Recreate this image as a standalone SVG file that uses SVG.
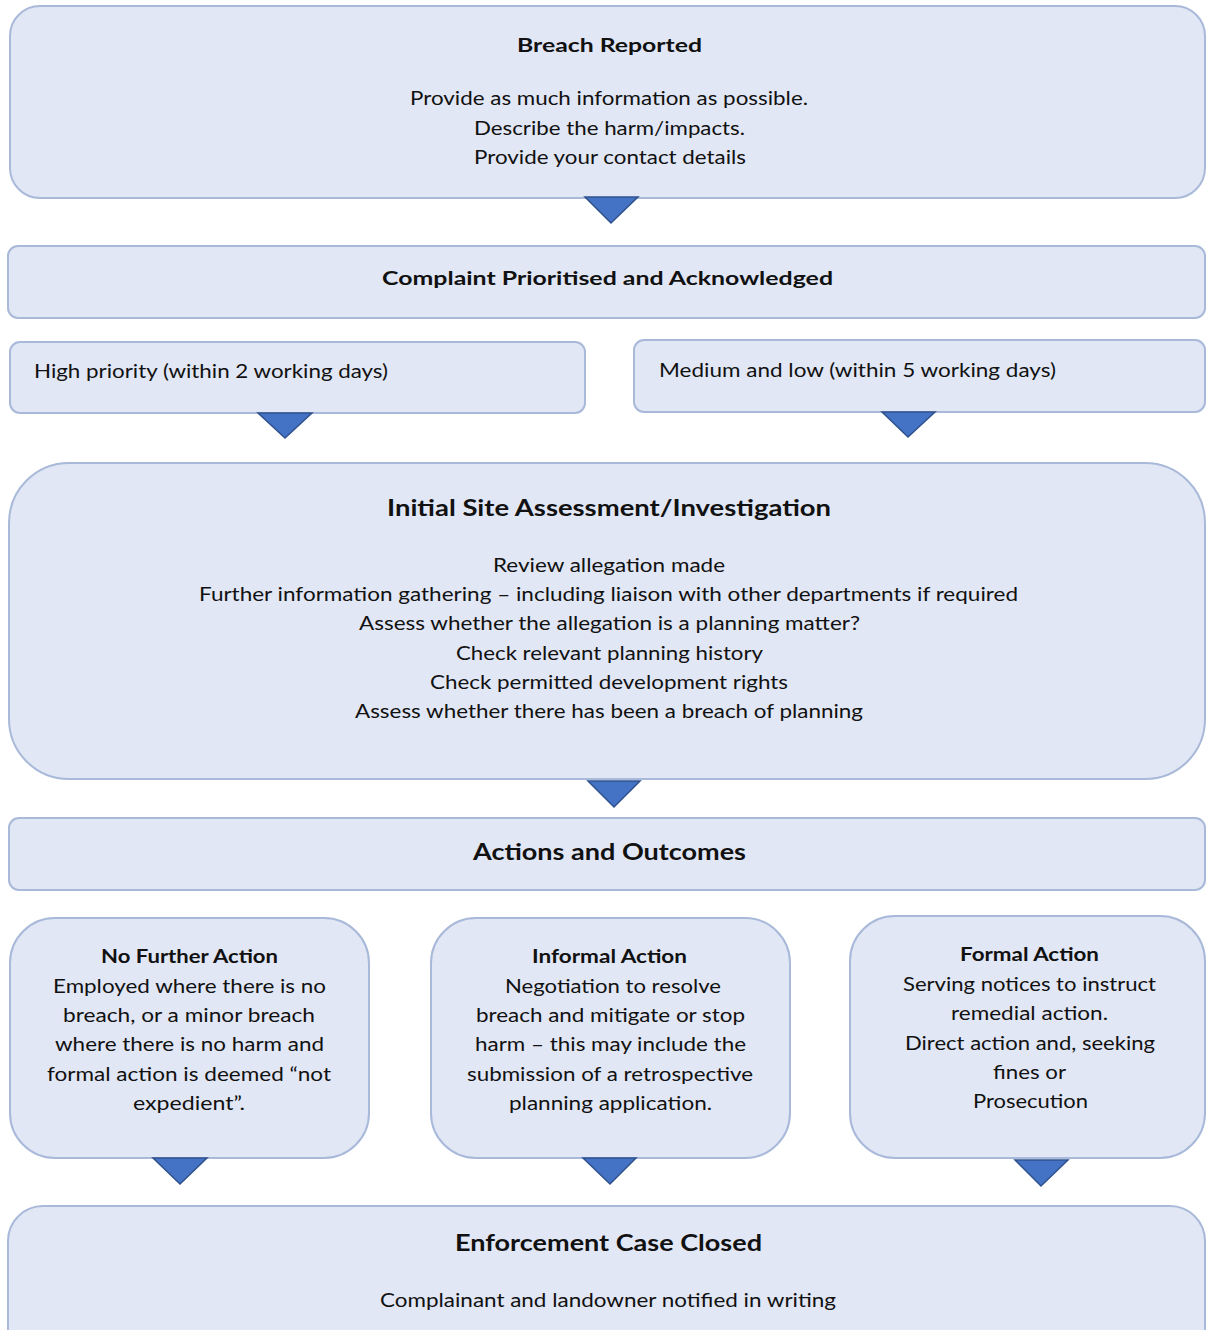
<svg xmlns="http://www.w3.org/2000/svg" width="1206" height="1330" viewBox="0 0 1206 1330">
<style>
.box{fill:#E1E7F5;stroke:#A9B9D9;stroke-width:2}
.tri{fill:#4472C4;stroke:#2F528F;stroke-width:1.5;stroke-linejoin:miter}
text{font-family:Lato,"Liberation Sans",sans-serif;fill:#111;font-size:19.5px}
.c{text-anchor:middle}
.b{font-weight:bold}
.big{font-size:23.5px}
</style>
<rect width="1206" height="1330" fill="#fff"/>
<g id="n1">
<rect class="box" x="10" y="6" width="1195" height="192" rx="30"/>
<text class="c b" x="609.5" y="52" textLength="185" lengthAdjust="spacingAndGlyphs">Breach Reported</text>
<text class="c" x="609" y="105" textLength="398" lengthAdjust="spacingAndGlyphs">Provide as much information as possible.</text>
<text class="c" x="609.5" y="135" textLength="271" lengthAdjust="spacingAndGlyphs">Describe the harm/impacts.</text>
<text class="c" x="610" y="164" textLength="272" lengthAdjust="spacingAndGlyphs">Provide your contact details</text>
</g>
<g id="n2">
<rect class="box" x="8" y="246" width="1197" height="72" rx="10"/>
<text class="c b" x="607.5" y="285" textLength="451" lengthAdjust="spacingAndGlyphs">Complaint Prioritised and Acknowledged</text>
</g>
<g id="n3">
<rect class="box" x="10" y="342" width="575" height="71" rx="10"/>
<text x="34" y="378" textLength="354" lengthAdjust="spacingAndGlyphs">High priority (within 2 working days)</text>
</g>
<g id="n4">
<rect class="box" x="634" y="340" width="571" height="72" rx="10"/>
<text x="659" y="377" textLength="397" lengthAdjust="spacingAndGlyphs">Medium and low (within 5 working days)</text>
</g>
<g id="n5">
<rect class="box" x="9" y="463" width="1196" height="316" rx="60"/>
<text class="c b big" x="609" y="516" textLength="444" lengthAdjust="spacingAndGlyphs">Initial Site Assessment/Investigation</text>
<text class="c" x="609" y="572" textLength="232" lengthAdjust="spacingAndGlyphs">Review allegation made</text>
<text class="c" x="608.5" y="601" textLength="819" lengthAdjust="spacingAndGlyphs">Further information gathering – including liaison with other departments if required</text>
<text class="c" x="609.5" y="630" textLength="501" lengthAdjust="spacingAndGlyphs">Assess whether the allegation is a planning matter?</text>
<text class="c" x="609.5" y="660" textLength="307" lengthAdjust="spacingAndGlyphs">Check relevant planning history</text>
<text class="c" x="609" y="689" textLength="358" lengthAdjust="spacingAndGlyphs">Check permitted development rights</text>
<text class="c" x="609" y="718" textLength="508" lengthAdjust="spacingAndGlyphs">Assess whether there has been a breach of planning</text>
</g>
<g id="n6">
<rect class="box" x="9" y="818" width="1196" height="72" rx="10"/>
<text class="c b big" x="609.5" y="860" textLength="273" lengthAdjust="spacingAndGlyphs">Actions and Outcomes</text>
</g>
<g id="n7">
<rect class="box" x="10" y="918" width="359" height="240" rx="45"/>
<text class="c b" x="189.5" y="963" textLength="177" lengthAdjust="spacingAndGlyphs">No Further Action</text>
<text class="c" x="189.5" y="993" textLength="273" lengthAdjust="spacingAndGlyphs">Employed where there is no</text>
<text class="c" x="189" y="1022" textLength="252" lengthAdjust="spacingAndGlyphs">breach, or a minor breach</text>
<text class="c" x="189.5" y="1051" textLength="269" lengthAdjust="spacingAndGlyphs">where there is no harm and</text>
<text class="c" x="189" y="1081" textLength="284" lengthAdjust="spacingAndGlyphs">formal action is deemed “not</text>
<text class="c" x="189" y="1110" textLength="112" lengthAdjust="spacingAndGlyphs">expedient”.</text>
</g>
<g id="n8">
<rect class="box" x="431" y="918" width="359" height="240" rx="45"/>
<text class="c b" x="609.5" y="963" textLength="155" lengthAdjust="spacingAndGlyphs">Informal Action</text>
<text class="c" x="613" y="993" textLength="216" lengthAdjust="spacingAndGlyphs">Negotiation to resolve</text>
<text class="c" x="610.5" y="1022" textLength="269" lengthAdjust="spacingAndGlyphs">breach and mitigate or stop</text>
<text class="c" x="610.5" y="1051" textLength="271" lengthAdjust="spacingAndGlyphs">harm – this may include the</text>
<text class="c" x="610" y="1081" textLength="286" lengthAdjust="spacingAndGlyphs">submission of a retrospective</text>
<text class="c" x="610.5" y="1110" textLength="203" lengthAdjust="spacingAndGlyphs">planning application.</text>
</g>
<g id="n9">
<rect class="box" x="850" y="916" width="355" height="242" rx="45"/>
<text class="c b" x="1029.5" y="961" textLength="139" lengthAdjust="spacingAndGlyphs">Formal Action</text>
<text class="c" x="1029.5" y="991" textLength="253" lengthAdjust="spacingAndGlyphs">Serving notices to instruct</text>
<text class="c" x="1029.5" y="1020" textLength="157" lengthAdjust="spacingAndGlyphs">remedial action.</text>
<text class="c" x="1030" y="1050" textLength="250" lengthAdjust="spacingAndGlyphs">Direct action and, seeking</text>
<text class="c" x="1029.5" y="1079" textLength="73" lengthAdjust="spacingAndGlyphs">fines or</text>
<text class="c" x="1030.5" y="1108" textLength="115" lengthAdjust="spacingAndGlyphs">Prosecution</text>
</g>
<g id="n10">
<rect class="box" x="8" y="1206" width="1197" height="160" rx="35"/>
<text class="c b big" x="608.5" y="1251" textLength="307" lengthAdjust="spacingAndGlyphs">Enforcement Case Closed</text>
<text class="c" x="608" y="1307" textLength="456" lengthAdjust="spacingAndGlyphs">Complainant and landowner notified in writing</text>
</g>
<g id="connectors">
<polygon class="tri" points="585,197 638,197 611,223"/>
<polygon class="tri" points="258,413 312,413 285,438"/>
<polygon class="tri" points="882,412 935,412 908,437"/>
<polygon class="tri" points="588,781 640,781 614,807"/>
<polygon class="tri" points="153,1158 207,1158 180,1184"/>
<polygon class="tri" points="583,1158 636,1158 610,1184"/>
<polygon class="tri" points="1015,1160 1068,1160 1041,1186"/>
</g>
</svg>
